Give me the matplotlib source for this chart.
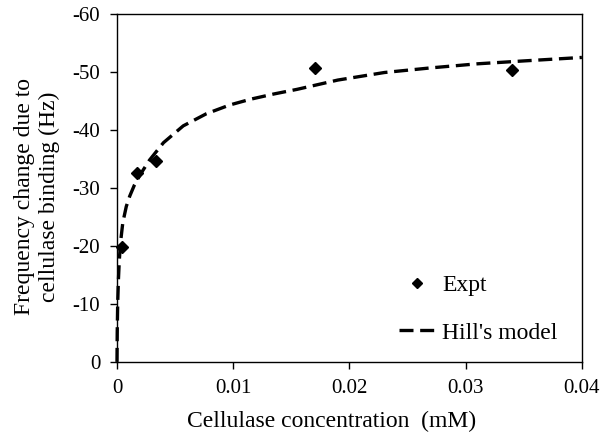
import matplotlib
matplotlib.use("Agg")
import matplotlib.pyplot as plt

plt.rcParams['font.family'] = ['Liberation Serif', 'DejaVu Serif']
plt.rcParams['axes.unicode_minus'] = False

# experimental points
expt_conc = [0.0004, 0.0017, 0.0034, 0.0170, 0.0340]
expt_freq = [-19.8, -32.6, -34.6, -50.7, -50.4]

# Hill's model curve
hill_conc = [0.0, 0.00002, 0.00006, 0.00012, 0.0002, 0.0003, 0.0005, 0.0008,
             0.0011, 0.0015, 0.0020, 0.0028, 0.0040, 0.0057, 0.0077, 0.0097,
             0.0115, 0.0135, 0.0155, 0.0190, 0.0230, 0.0270, 0.0310, 0.0350,
             0.0400]
hill_freq = [0.0, -5.0, -10.0, -14.0, -17.5, -20.5, -24.0, -26.8,
             -28.6, -30.5, -32.3, -34.8, -37.8, -40.7, -42.8, -44.3,
             -45.3, -46.2, -47.0, -48.6, -49.9, -50.7, -51.4, -51.9,
             -52.5]

xticks = [0, 0.01, 0.02, 0.03, 0.04]
xtick_labels = ['0', '0.01', '0.02', '0.03', '0.04']
yticks = [0, -10, -20, -30, -40, -50, -60]

fig = plt.figure(figsize=(6.03, 4.36), dpi=100)
ax = fig.add_axes([0.194, 0.170, 0.771, 0.798])

ax.plot(expt_conc, expt_freq, linestyle='none', marker='D', markersize=6.5,
        color='black', label='Expt', clip_on=False, zorder=3)
ax.plot(hill_conc, hill_freq, color='black', linewidth=2.4,
        dashes=(4.2, 2.0), label="Hill's model", clip_on=False)

ax.set_xlim(0, 0.04)
ax.set_ylim(0, -60)
ax.set_xticks(xticks)
ax.set_xticklabels(xtick_labels)
ax.set_yticks(yticks)
ax.tick_params(direction='out', length=5, width=1, labelsize=15, colors='black')
ax.tick_params(axis='x', pad=7)
ax.tick_params(axis='y', pad=7)
for s in ax.spines.values():
    s.set_linewidth(1)

ax.set_xlabel('Cellulase concentration  (mM)', fontsize=17)
ax.xaxis.set_label_coords(0.462, -0.14)
ax.set_ylabel('Frequency change due to\ncellulase binding (Hz)', fontsize=17)
ax.yaxis.set_label_coords(-0.123, 0.474)

ax.legend(loc='lower right', bbox_to_anchor=(0.994, -0.009), frameon=False,
          fontsize=17, handlelength=1.5, labelspacing=1.1, handletextpad=0.34,
          markerscale=0.8)

fig.savefig('out.png', dpi=100)
